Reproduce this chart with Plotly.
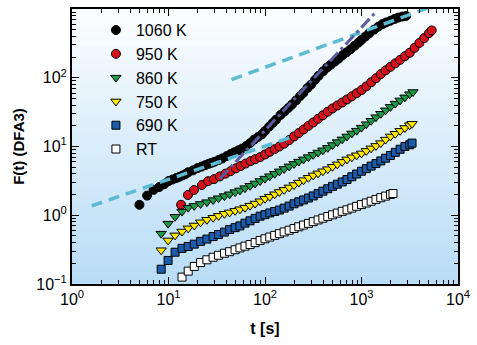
import plotly.graph_objects as go

# ---------------- data ----------------
t_1060 = [5, 6, 7, 8, 9, 10, 11, 12, 13, 14, 15, 16, 18, 20, 22, 24, 26, 28, 30, 33, 36, 40, 44, 48,
          53, 58, 64, 70, 77, 85, 93, 100, 110, 120, 130, 145, 160, 175, 190, 210, 230, 250, 275,
          300, 330, 360, 400, 440, 480, 530, 580, 640, 700, 770, 850, 930, 1000, 1100, 1200, 1350,
          1500, 1650, 1800, 2000, 2200, 2400, 2650, 2900]
F_1060 = [1.42, 1.93, 2.34, 2.57, 2.82, 3.14, 3.31, 3.47, 3.63, 3.80, 3.98, 4.22, 4.5, 4.85, 5.1, 5.35,
          5.6, 5.8, 6.0, 6.35, 6.7, 7.24, 7.76, 8.22, 8.81, 9.33, 10.2, 11.2, 12.6, 13.8, 15.1, 16.8,
          19.3, 21.9, 24.5, 28.8, 32.5, 36.5, 40.7, 46.8, 53.7, 60.3, 70.8, 79.4, 93.3, 107, 124, 141,
          155, 172, 190, 214, 234, 260, 292, 324, 355, 398, 442, 501, 556, 603, 638, 676, 716, 750,
          776, 794]

t_950 = [13.5, 15.9, 18.4, 22.2, 25.7, 29.6, 34, 39, 44, 50, 56, 63, 71, 79, 89, 100, 112, 126, 141,
         158, 178, 200, 224, 251, 282, 316, 355, 398, 447, 501, 562, 631, 708, 794, 891, 1000, 1122,
         1259, 1413, 1585, 1778, 1995, 2239, 2512, 2818, 3162, 3548, 3981, 4467, 5000, 5340]
F_950 = [1.42, 1.97, 2.33, 2.75, 3.13, 3.35, 3.67, 4.03, 4.38, 4.81, 5.21, 5.65, 6.13, 6.53, 7.0, 7.66,
         8.36, 9.14, 9.98, 11.0, 12.4, 14.0, 15.7, 17.7, 20.0, 22.4, 25.3, 28.5, 32.1, 35.8, 39.5,
         43.6, 48.4, 53.7, 59.6, 66.2, 75, 85.9, 98.4, 113, 128, 144, 162, 182, 206, 231, 272, 321,
         378, 445, 488]

t_860 = [8.4, 9.9, 11.7, 13.8, 16, 18.5, 21.5, 25, 29, 33, 38, 43, 49, 55, 62, 70, 79, 89, 100, 112,
         126, 141, 158, 178, 200, 224, 251, 282, 316, 355, 398, 447, 501, 562, 631, 708, 794, 891,
         1000, 1122, 1259, 1413, 1585, 1778, 1995, 2239, 2512, 2818, 3162, 3420]
F_860 = [0.54, 0.755, 0.95, 1.13, 1.29, 1.37, 1.46, 1.55, 1.66, 1.77, 1.90, 2.02, 2.17, 2.30, 2.48,
         2.68, 2.90, 3.15, 3.41, 3.70, 4.01, 4.35, 4.72, 5.14, 5.59, 6.03, 6.50, 7.01, 7.57, 8.17,
         8.81, 9.55, 10.5, 11.6, 12.7, 14.0, 15.5, 17.0, 18.8, 21.1, 23.7, 26.7, 29.9, 33.6, 37.7,
         42.1, 46.8, 51.9, 57.7, 62]

t_750 = [8.4, 9.9, 11.7, 13.8, 16, 18.5, 21.5, 25, 29, 33, 38, 43, 49, 55, 62, 70, 79, 89, 100, 112,
         126, 141, 158, 178, 200, 224, 251, 282, 316, 355, 398, 447, 501, 562, 631, 708, 794, 891,
         1000, 1122, 1259, 1413, 1585, 1778, 1995, 2239, 2512, 2818, 3162, 3337]
F_750 = [0.31, 0.43, 0.51, 0.58, 0.645, 0.71, 0.79, 0.86, 0.92, 0.98, 1.05, 1.10, 1.16, 1.22, 1.29,
         1.38, 1.48, 1.60, 1.74, 1.86, 2.02, 2.18, 2.34, 2.54, 2.75, 2.99, 3.24, 3.51, 3.80, 4.07,
         4.37, 4.68, 5.07, 5.50, 5.98, 6.50, 6.97, 7.45, 7.94, 8.63, 9.40, 10.2, 11.2, 12.6, 14.0,
         15.3, 16.9, 18.6, 20.4, 21.4]

t_690 = [8.4, 9.9, 11.7, 13.8, 16, 18.5, 21.5, 25, 29, 33, 38, 43, 49, 55, 62, 70, 79, 89, 100, 112,
         126, 141, 158, 178, 200, 224, 251, 282, 316, 355, 398, 447, 501, 562, 631, 708, 794, 891,
         1000, 1122, 1259, 1413, 1585, 1778, 1995, 2239, 2512, 2818, 3162, 3340]
F_690 = [0.164, 0.22, 0.29, 0.33, 0.351, 0.38, 0.417, 0.45, 0.49, 0.525, 0.569, 0.62, 0.66, 0.70,
         0.767, 0.83, 0.90, 0.97, 1.02, 1.08, 1.135, 1.19, 1.27, 1.36, 1.47, 1.57, 1.67, 1.78, 1.91,
         2.07, 2.24, 2.43, 2.63, 2.83, 3.05, 3.31, 3.63, 3.98, 4.37, 4.76, 5.19, 5.65, 6.17, 6.76,
         7.41, 8.22, 9.12, 10.0, 10.6, 11.2]

t_RT = [13.8, 16, 18.5, 21.5, 25, 29, 33, 38, 43, 49, 55, 62, 70, 79, 89, 100, 112, 126, 141, 158,
        178, 200, 224, 251, 282, 316, 355, 398, 447, 501, 562, 631, 708, 794, 891, 1000, 1122, 1259,
        1413, 1585, 1778, 1995, 2120]
F_RT = [0.126, 0.154, 0.18, 0.205, 0.225, 0.245, 0.262, 0.28, 0.295, 0.315, 0.335, 0.355, 0.375, 0.40,
        0.43, 0.455, 0.482, 0.51, 0.54, 0.572, 0.606, 0.642, 0.68, 0.72, 0.762, 0.807, 0.855, 0.905,
        0.958, 1.015, 1.075, 1.14, 1.20, 1.27, 1.35, 1.43, 1.51, 1.60, 1.70, 1.80, 1.90, 2.01, 2.07]

# guide lines (power-law fits), endpoints
fit_low_t = [1.6, 190]
fit_low_F = [1.37, 13.8]
fit_high_t = [45, 4800]
fit_high_F = [94, 1030]
fit_mid_t = [34, 1380]
fit_mid_F = [3.4, 875]

series_names = ["1060 K", "950 K", "860 K", "750 K", "690 K", "RT"]
x_tickvals = [1, 10, 100, 1000, 10000]
x_ticktext = ["10<sup>0</sup>", "10<sup>1</sup>", "10<sup>2</sup>", "10<sup>3</sup>", "10<sup>4</sup>"]
y_tickvals = [0.1, 1, 10, 100]
y_ticktext = ["10<sup>\u22121</sup>", "10<sup>0</sup>", "10<sup>1</sup>", "10<sup>2</sup>"]

# ---------------- figure ----------------
FONT = "Liberation Sans, Arial, Helvetica, sans-serif"
fig = go.Figure()

styles = [
    (t_1060, F_1060, "circle", "#000000", 9),
    (t_950, F_950, "circle", "#d5121c", 9),
    (t_860, F_860, "triangle-down", "#1c9a47", 9),
    (t_750, F_750, "triangle-down", "#ffe800", 9),
    (t_690, F_690, "square", "#1b5cab", 8),
    (t_RT, F_RT, "square", "#ffffff", 8),
]
for name, (tx, fy, sym, col, sz) in zip(series_names, styles):
    fig.add_trace(go.Scatter(
        x=tx, y=fy, mode="markers", name=name,
        marker=dict(symbol=sym, color=col, size=sz, line=dict(color="black", width=1)),
    ))

CYAN = "#5cbad2"
PURP = "#5a5ca0"
fig.add_trace(go.Scatter(x=fit_low_t, y=fit_low_F, mode="lines", showlegend=False,
                         line=dict(color=CYAN, width=3.5, dash="11px,7px")))
fig.add_trace(go.Scatter(x=fit_high_t, y=fit_high_F, mode="lines", showlegend=False,
                         line=dict(color=CYAN, width=3.5, dash="11px,7px")))
fig.add_trace(go.Scatter(x=fit_mid_t, y=fit_mid_F, mode="lines", showlegend=False,
                         line=dict(color=PURP, width=3, dash="12px,4px,3px,4px")))

# vertical white -> light blue gradient behind the data
N = 60
top = (252, 254, 255)
bot = (184, 220, 246)
for i in range(N):
    f = (i + 0.5) / N
    c = tuple(int(round(bot[k] + (top[k] - bot[k]) * f)) for k in range(3))
    fig.add_shape(type="rect", xref="x domain", yref="y domain",
                  x0=0, x1=1, y0=i / N, y1=(i + 1) / N + 0.002,
                  fillcolor="rgb(%d,%d,%d)" % c, line=dict(width=0), layer="below")

axis_common = dict(
    type="log", showline=True, linewidth=2, linecolor="black", mirror="ticks",
    ticks="inside", ticklen=7, tickwidth=1.2, tickcolor="black", showgrid=False, zeroline=False,
    tickfont=dict(family=FONT, size=16, color="black"),
    minor=dict(ticks="inside", ticklen=4, tickwidth=1, tickcolor="black", showgrid=False, dtick="D1"),
)

fig.update_xaxes(range=[0, 4], tickmode="array", tickvals=x_tickvals, ticktext=x_ticktext,
                 title=dict(text="<b>t [s]</b>", font=dict(family=FONT, size=16, color="black"), standoff=16),
                 **axis_common)
fig.update_yaxes(range=[-1, 3], tickmode="array", tickvals=y_tickvals, ticktext=y_ticktext,
                 title=dict(text="<b>F(t) (DFA3)</b>", font=dict(family=FONT, size=15, color="black"), standoff=8),
                 **axis_common)

fig.update_layout(
    width=477, height=345,
    margin=dict(l=72, r=19, t=7, b=61),
    paper_bgcolor="white", plot_bgcolor="rgba(0,0,0,0)",
    font=dict(family=FONT, color="black"),
    legend=dict(x=0.062, y=0.985, xanchor="left", yanchor="top", bgcolor="rgba(0,0,0,0)",
                font=dict(family=FONT, size=16, color="black"), tracegroupgap=0, itemwidth=30),
)

fig.write_html("out.html")
